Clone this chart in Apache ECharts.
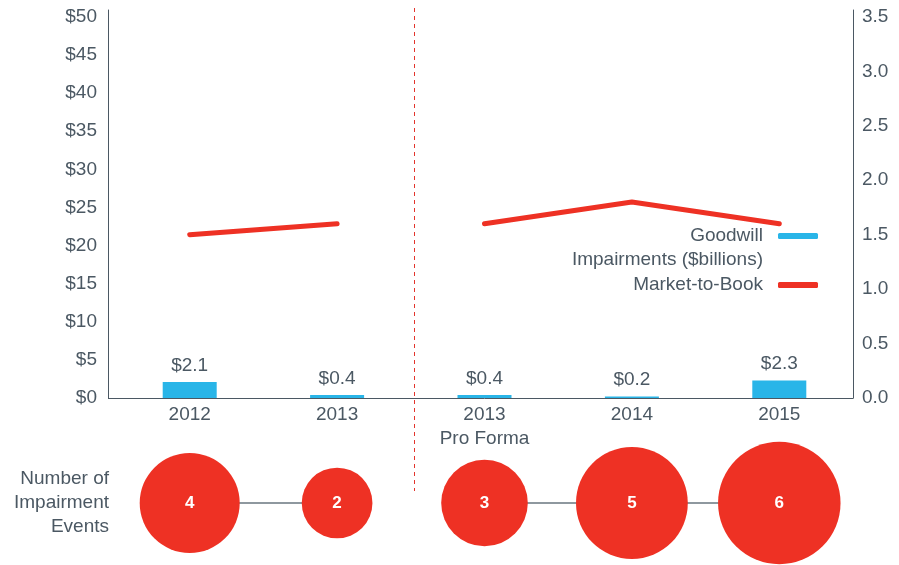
<!DOCTYPE html>
<html>
<head>
<meta charset="utf-8">
<script src="https://cdn.jsdelivr.net/npm/echarts@6/dist/echarts.min.js"></script>
<style>
  html, body { margin: 0; padding: 0; background: #fff; }
  #chart { width: 899px; height: 565px; }
</style>
</head>
<body>
<div id="chart"></div>
<script>
// Categories and values
const categories = ['2012', '2013', '2013\nPro Forma', '2014', '2015'];
const goodwillImpairments = [2.1, 0.4, 0.4, 0.2, 2.3];      // $ billions
const marketToBookBefore = [1.5, 1.6, null, null, null];
const marketToBookAfter = [null, null, 1.6, 1.8, 1.6];
const impairmentEvents = [4, 2, 3, 5, 6];
// axis ranges run a little past the last labelled tick
const leftTicks = { min: 0, max: 50.9, interval: 5 };
const rightTicks = { min: 0, max: 3.563, interval: 0.5 };

const TEXT = '#4b5863';
const BLUE = '#29b5e8';
const RED = '#ee3124';
const FONT = 'Liberation Sans';
const FS = 19;

const chart = echarts.init(document.getElementById('chart'));

const bubbleRow = impairmentEvents.map(v => ({ value: 0.5, events: v }));

chart.setOption({
  animation: false,
  textStyle: { fontFamily: FONT },
  grid: [
    { left: 116, right: 46, top: 10, bottom: 167 },
    { left: 116, right: 46, top: 450, height: 106 }
  ],
  legend: [
    {
      data: [{ name: 'Goodwill Impairments ($billions)' }],
      orient: 'vertical', right: 81, top: 200, align: 'right', padding: 0,
      icon: 'roundRect', itemWidth: 40, itemHeight: 6,
      formatter: () => ' \nGoodwill\nImpairments ($billions)',
      textStyle: { color: TEXT, fontSize: FS, lineHeight: 24, padding: [0, 10, 0, 0] }
    },
    {
      data: [{ name: 'Market-to-Book' }],
      orient: 'vertical', right: 81, top: 273, align: 'right', padding: 0,
      icon: 'roundRect', itemWidth: 40, itemHeight: 6,
      textStyle: { color: TEXT, fontSize: FS, lineHeight: 24, padding: [0, 10, 0, 0] }
    }
  ],
  xAxis: [
    {
      type: 'category', gridIndex: 0, data: categories,
      axisLine: { lineStyle: { color: TEXT, width: 1 } },
      axisTick: { show: false },
      axisLabel: { color: TEXT, fontSize: FS, lineHeight: 24, margin: 5 }
    },
    {
      type: 'category', gridIndex: 1, data: categories,
      axisLine: { show: false }, axisTick: { show: false }, axisLabel: { show: false }
    }
  ],
  yAxis: [
    {
      type: 'value', gridIndex: 0, position: 'left', offset: 8,
      min: leftTicks.min, max: leftTicks.max, interval: leftTicks.interval,
      axisLine: { show: true, lineStyle: { color: TEXT, width: 1 } },
      axisTick: { show: false }, splitLine: { show: false },
      axisLabel: { color: TEXT, fontSize: FS, margin: 11, showMaxLabel: false, formatter: v => '$' + v }
    },
    {
      type: 'value', gridIndex: 0, position: 'right',
      min: rightTicks.min, max: rightTicks.max, interval: rightTicks.interval,
      axisLine: { show: true, lineStyle: { color: TEXT, width: 1 } },
      axisTick: { show: false }, splitLine: { show: false },
      axisLabel: { color: TEXT, fontSize: FS, margin: 9, showMaxLabel: false, formatter: v => v.toFixed(1) }
    },
    {
      type: 'value', gridIndex: 1, min: 0, max: 1, show: false
    }
  ],
  series: [
    {
      name: 'Goodwill Impairments ($billions)', type: 'bar',
      xAxisIndex: 0, yAxisIndex: 0,
      data: goodwillImpairments, barWidth: 54,
      itemStyle: { color: BLUE },
      label: { show: true, position: 'top', distance: 7, color: TEXT, fontSize: FS, formatter: p => '$' + p.value.toFixed(1) }
    },
    {
      name: 'Market-to-Book', type: 'line', xAxisIndex: 0, yAxisIndex: 1,
      data: marketToBookBefore, symbol: 'none', connectNulls: false,
      lineStyle: { color: RED, width: 5, cap: 'round' }, itemStyle: { color: RED }
    },
    {
      name: 'Market-to-Book', type: 'line', xAxisIndex: 0, yAxisIndex: 1,
      data: marketToBookAfter, symbol: 'none', connectNulls: false,
      lineStyle: { color: RED, width: 5, cap: 'round', join: 'round' }, itemStyle: { color: RED }
    },
    // connectors between event bubbles
    {
      type: 'line', xAxisIndex: 1, yAxisIndex: 2, z: 1, silent: true,
      data: [0.5, 0.5, null, null, null], symbol: 'none',
      lineStyle: { color: '#8e989f', width: 2 }
    },
    {
      type: 'line', xAxisIndex: 1, yAxisIndex: 2, z: 1, silent: true,
      data: [null, null, 0.5, 0.5, 0.5], symbol: 'none',
      lineStyle: { color: '#8e989f', width: 2 }
    },
    {
      type: 'scatter', xAxisIndex: 1, yAxisIndex: 2, z: 3,
      data: bubbleRow,
      symbolSize: (val, p) => 50 * Math.sqrt(p.data.events),
      itemStyle: { color: RED, opacity: 1 },
      label: { show: true, position: 'inside', color: '#fff', fontWeight: 'bold', fontSize: 17, formatter: p => String(p.data.events) }
    }
  ]
});

// Divider between reported years and pro forma, axis corner, and the bubble row caption
const c1 = chart.convertToPixel({ xAxisIndex: 0 }, 1);
const c2 = chart.convertToPixel({ xAxisIndex: 0 }, 2);
const dividerX = Math.round((c1 + c2) / 2) + 3.5;
const rowY = chart.convertToPixel({ yAxisIndex: 2 }, 0.5);
const baseY = Math.round(chart.convertToPixel({ yAxisIndex: 0 }, 0)) + 0.5;

chart.setOption({
  graphic: [
    {
      type: 'line', silent: true, z: 0,
      shape: { x1: dividerX, y1: 8, x2: dividerX, y2: 491 },
      style: { stroke: '#e3342c', lineWidth: 1, lineDash: [4, 4] }
    },
    {
      type: 'line', silent: true,
      shape: { x1: 108, y1: baseY, x2: 117, y2: baseY },
      style: { stroke: TEXT, lineWidth: 1 }
    },
    {
      type: 'text', silent: true,
      x: 109, y: rowY,
      style: {
        text: 'Number of\nImpairment\nEvents', fill: TEXT, font: FS + 'px ' + FONT,
        align: 'right', verticalAlign: 'middle', lineHeight: 24
      }
    }
  ]
});
</script>
</body>
</html>
